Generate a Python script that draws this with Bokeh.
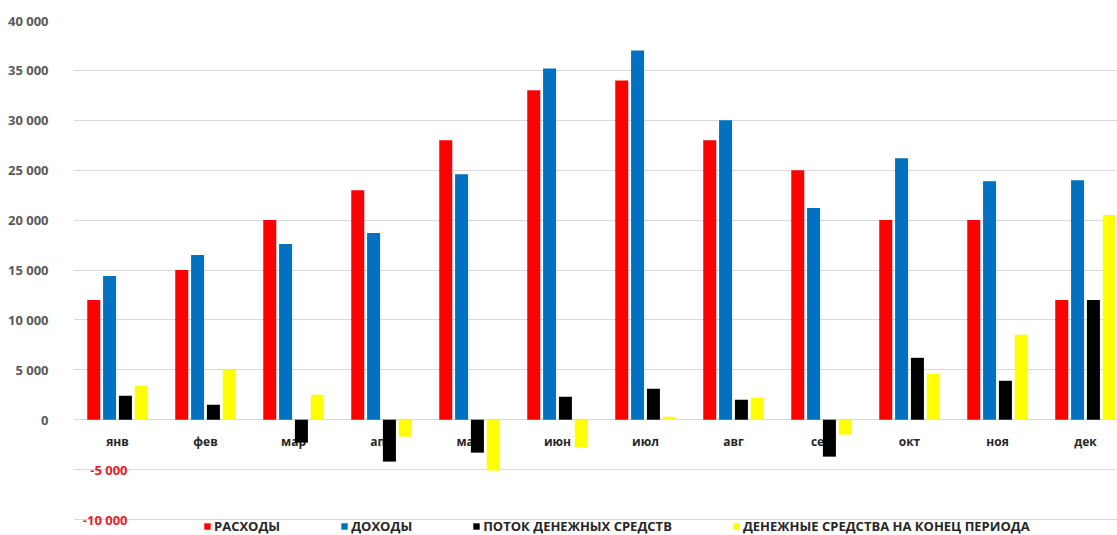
from bokeh.plotting import figure
from bokeh.models import FixedTicker, Label, Legend, LegendItem, Range1d, ColumnDataSource
from bokeh.core.properties import value
from bokeh.embed import file_html
from bokeh.resources import INLINE

months = ["янв", "фев", "мар", "апр", "май", "июн", "июл", "авг", "сен", "окт", "ноя", "дек"]
expenses = [12000, 15000, 20000, 23000, 28000, 33000, 34000, 28000, 25000, 20000, 20000, 12000]
income = [14400, 16500, 17600, 18700, 24600, 35200, 37000, 30000, 21200, 26200, 23900, 24000]
cash_flow = [2400, 1500, -2300, -4200, -3300, 2300, 3100, 2000, -3700, 6200, 3900, 12000]
cash_end = [3400, 5000, 2500, -1700, -5100, -2800, 300, 2200, -1500, 4600, 8500, 20500]
series_names = ["РАСХОДЫ", "ДОХОДЫ", "ПОТОК ДЕНЕЖНЫХ СРЕДСТВ", "ДЕНЕЖНЫЕ СРЕДСТВА НА КОНЕЦ ПЕРИОДА"]
series_colors = ["#ff0000", "#0070c0", "#000000", "#ffff00"]
y_ticks = list(range(-10000, 40001, 5000))

FONT = "Open Sans"
W, H = 1117, 535
LEFT, TOP = 73, 20
px_per_cat = 88.0
frame_w = W - LEFT
x_start = -0.5
x_end = x_start + frame_w / px_per_cat
px_per_unit = 499.0 / 50000.0
frame_h = H - TOP
y_end = 40000
y_start = y_end - frame_h / px_per_unit

p = figure(width=W, height=H, output_backend="svg", toolbar_location=None,
           x_range=Range1d(x_start, x_end), y_range=Range1d(y_start, y_end),
           x_axis_location=None, min_border_left=LEFT, min_border_right=0,
           min_border_top=TOP, min_border_bottom=0)
p.outline_line_color = None
p.background_fill_color = "white"
p.border_fill_color = "white"

p.xgrid.visible = False
p.ygrid.ticker = FixedTicker(ticks=y_ticks)
p.ygrid.grid_line_color = "#d9d9d9"
p.ygrid.grid_line_width = 1

ax = p.yaxis[0]
ax.ticker = FixedTicker(ticks=y_ticks)
def fmt(t):
    return f"{t:,}".replace(",", " ")
ax.major_label_overrides = {t: (fmt(t) if t >= 0 else "") for t in y_ticks}
ax.axis_line_color = None
ax.major_tick_line_color = None
ax.minor_tick_line_color = None
ax.major_label_text_font = FONT
ax.major_label_text_font_style = "bold"
ax.major_label_text_font_size = "13px"
ax.major_label_text_color = "#595959"
ax.major_label_standoff = 19

for t in y_ticks:
    if t < 0:
        p.add_layout(Label(x=LEFT - 19, y=t, x_units="screen", y_units="data",
                           text=fmt(t), text_align="right",
                           text_baseline="middle", text_font=FONT,
                           text_font_style="bold", text_font_size="13px",
                           text_color="#e8202a"))

idx = list(range(len(months)))
p.text(x=idx, y=[-2200] * len(months), text=months, text_align="center",
       text_baseline="middle", text_font=value(FONT), text_font_style="bold",
       text_font_size="12px", text_color="#262626")

offsets = [-0.27, -0.09, 0.09, 0.27]
bar_w = 13.0 / px_per_cat
items = []
for name, vals, col, off in zip(series_names, [expenses, income, cash_flow, cash_end],
                                series_colors, offsets):
    src = ColumnDataSource(dict(x=[i + off for i in idx], top=vals))
    r = p.vbar(x="x", top="top", bottom=0, width=bar_w, source=src,
               fill_color=col, line_color=None)
    items.append(LegendItem(label=name, renderers=[r]))

legend = Legend(items=items, orientation="horizontal", location=(130, 0),
                background_fill_alpha=0, border_line_color=None,
                padding=0, margin=0, spacing=60, label_standoff=3,
                glyph_width=8, glyph_height=8, label_height=14,
                label_text_font=FONT, label_text_font_style="bold",
                label_text_font_size="13px", label_text_color="#262626")
p.add_layout(legend)

open("out.html", "w").write(file_html(p, INLINE))
